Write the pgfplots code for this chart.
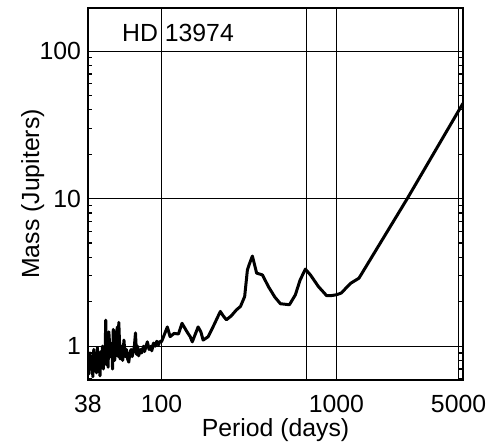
\documentclass[border=0pt]{standalone}
\usepackage{fontspec}
\setmainfont{Liberation Sans}
\usepackage{pgfplots}
\pgfplotsset{compat=1.18}

\begin{document}
\begin{tikzpicture}
\useasboundingbox (-44pt,-31.5pt) rectangle (200pt,190pt);
\begin{axis}[
  scale only axis,
  width=187.5pt,
  height=186pt,
  xmode=log, ymode=log,
  xmin=38, xmax=5300,
  ymin=0.59, ymax=196,
  xtick={38,100,1000,5000},
  xticklabels={38,100,1000,5000},
  ytick={1,10,100},
  yticklabels={1,10,100},
  xminorticks=false,
  yminorticks=true,
  minor ytick={0.6,0.7,0.8,0.9,2,3,4,5,6,7,8,9,20,30,40,50,60,70,80,90},
  extra x ticks={673},
  extra x tick labels={},
  extra x tick style={grid=major},
  grid=major,
  major grid style={black, line width=0.5pt},
  axis line style={black, line width=0.65pt},
  major tick length=0pt,
  minor tick length=2.2pt,
  minor tick style={black, line width=0.6pt},
  /pgf/number format/assume math mode=true,
  tick label style={font=\fontsize{12.4}{14}\selectfont},
  xticklabel style={anchor=base, yshift=-16.5pt},
  label style={font=\fontsize{12.4}{14}\selectfont},
  xlabel={Period (days)},
  ylabel={Mass (Jupiters)},
  xlabel style={at={(axis description cs:0.5,0)}, anchor=base, yshift=-28.5pt},
  ylabel style={at={(axis description cs:0,0.5)}, anchor=base, yshift=24.5pt},
]
\addplot[black, line width=1.5pt, line join=round] coordinates {
(38,0.75) (38.5,0.65) (39,0.9) (39.5,0.7) (40,0.85) (40.5,0.62) (41,0.95)
(41.5,0.72) (42,0.88) (42.5,0.66) (43,0.98) (43.5,0.74) (44,0.85) (44.5,0.63)
(45,0.92) (45.5,0.76) (46,1.0) (46.5,0.7) (47,0.9) (47.5,0.8) (48,1.5)
(48.5,0.75) (49,1.1) (49.5,0.72) (50,1.25) (51,0.85) (52,1.05) (52.5,0.7)
(53,1.3) (54,0.8) (55,1.2) (56,1.35) (56.5,0.85) (57,1.45) (58,0.82)
(59,1.0) (60,0.8) (61,1.1) (62,0.85) (63,0.95) (64,0.82) (65,0.78)
(66,0.9) (67,0.95) (68,0.85) (70,1.0) (71,1.23) (72,0.88) (73,1.0)
(74,0.86) (76,0.95) (77,0.9) (79,1.0) (80,0.92) (83,1.07) (85,0.95)
(87,1.0) (88,0.93) (90,1.05) (92,1.0) (94,1.08) (96,1.02) (98,1.08)
(100,1.07) (108,1.35) (112,1.16) (118,1.22) (125,1.21) (131,1.43)
(140,1.25) (146,1.16) (150,1.07) (162,1.35) (168,1.25) (173,1.10)
(185,1.16) (200,1.40) (217,1.72) (226,1.60) (235,1.51) (250,1.60)
(268,1.76) (283,1.86) (299,2.17) (310,3.29) (318,3.6) (331,4.08)
(342,3.5) (350,3.13) (378,3.04) (409,2.53) (445,2.15) (479,1.94)
(539,1.91) (583,2.23) (620,2.8) (665,3.33) (711,3.04) (791,2.53)
(880,2.2) (928,2.2) (1000,2.23) (1065,2.29) (1208,2.67) (1347,2.89)
(2556,10.1) (5300,44.3)
};
\node[font=\fontsize{12.4}{14}\selectfont] at (rel axis cs:0.24,0.933) {HD 13974};
\end{axis}
\end{tikzpicture}
\end{document}
